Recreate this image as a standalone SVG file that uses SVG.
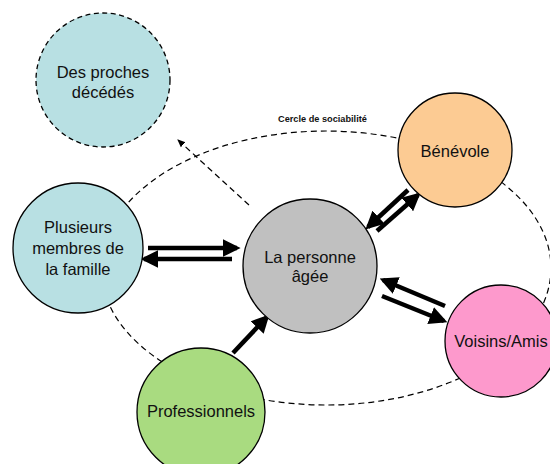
<svg xmlns="http://www.w3.org/2000/svg" width="550" height="464" viewBox="0 0 550 464">
  <defs>
    <marker id="head" markerWidth="4" markerHeight="4" refX="3.2" refY="2" orient="auto" markerUnits="strokeWidth">
      <path d="M0,0 L4,2 L0,4 Z" fill="#000"/>
    </marker>
    <marker id="headThin" markerWidth="8" markerHeight="8" refX="7" refY="4" orient="auto" markerUnits="userSpaceOnUse">
      <path d="M0,0.5 L8,4 L0,7.5 Z" fill="#000"/>
    </marker>
  </defs>
  <style>
    .node circle { stroke: #000; stroke-width: 1.3; }
    .label { font-family: "Liberation Sans", Arial, sans-serif; font-size: 16.5px; fill: #111; text-anchor: middle; }
    .flow { stroke: #000; stroke-width: 4.5; fill: none; marker-end: url(#head); }
    .dash { stroke: #000; stroke-width: 1.2; fill: none; stroke-dasharray: 6 4; }
    .title { font-family: "Liberation Sans", Arial, sans-serif; font-size: 9.2px; font-weight: bold; fill: #111; }
  </style>

  <rect width="550" height="464" fill="#fff"/>

  <!-- circle of sociability -->
  <g id="sociability">
    <ellipse class="dash" cx="326" cy="268" rx="225" ry="137"/>
    <text class="title" x="278" y="122">Cercle de sociabilité</text>
  </g>

  <!-- connectors -->
  <g id="connectors">
    <line class="dash" x1="249" y1="205" x2="178" y2="140" marker-end="url(#headThin)"/>
    <line class="flow" x1="148" y1="248" x2="237" y2="248"/>
    <line class="flow" x1="232" y1="259" x2="144" y2="259"/>
    <line class="flow" x1="408" y1="190" x2="368" y2="227"/>
    <line class="flow" x1="377" y1="231" x2="418" y2="195"/>
    <line class="flow" x1="445" y1="306" x2="383" y2="280"/>
    <line class="flow" x1="382" y1="296" x2="444" y2="321"/>
    <line class="flow" x1="233" y1="353" x2="267" y2="317"/>
  </g>

  <!-- nodes -->
  <g id="deceased" class="node">
    <circle cx="103" cy="80" r="67" fill="#b8e0e3" stroke-dasharray="5 3.5"/>
    <text class="label" x="103" y="78">Des proches</text>
    <text class="label" x="103" y="98">décédés</text>
  </g>

  <g id="family" class="node">
    <circle cx="78" cy="248" r="65" fill="#b8e0e3"/>
    <text class="label" x="78" y="233">Plusieurs</text>
    <text class="label" x="78" y="254">membres de</text>
    <text class="label" x="78" y="275">la famille</text>
  </g>

  <g id="elder" class="node">
    <circle cx="310" cy="266" r="67" fill="#c0c0c0"/>
    <text class="label" x="310" y="263">La personne</text>
    <text class="label" x="310" y="282">âgée</text>
  </g>

  <g id="volunteer" class="node">
    <circle cx="455" cy="150" r="57" fill="#fccb93"/>
    <text class="label" x="455" y="157">Bénévole</text>
  </g>

  <g id="neighbours" class="node">
    <circle cx="501" cy="341" r="56" fill="#fd99cc"/>
    <text class="label" x="501" y="347">Voisins/Amis</text>
  </g>

  <g id="professionals" class="node">
    <circle cx="201" cy="412" r="64" fill="#a9db80"/>
    <text class="label" x="201" y="417">Professionnels</text>
  </g>
</svg>
